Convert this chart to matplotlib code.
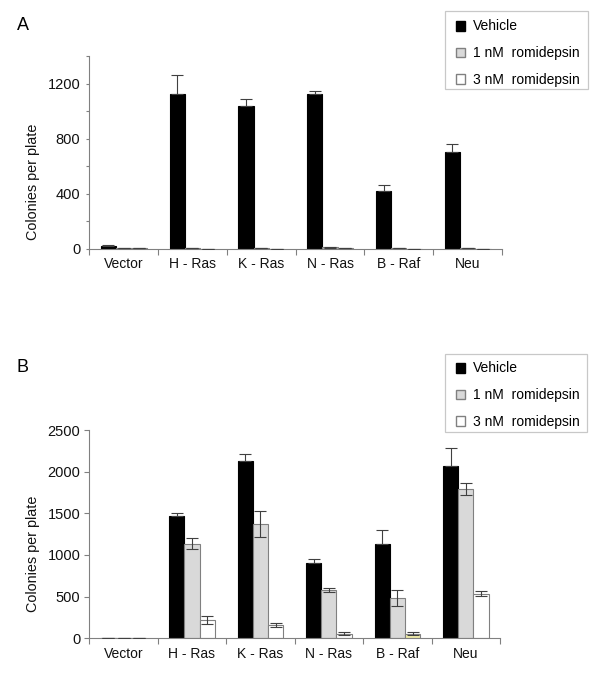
import numpy as np
import matplotlib
matplotlib.use("Agg")
import matplotlib.pyplot as plt
from matplotlib.patches import Patch, Rectangle

plt.rcParams['font.family'] = ['Liberation Sans', 'DejaVu Sans']

# categories and series
groups = ['Vector', 'H - Ras', 'K - Ras', 'N - Ras', 'B - Raf', 'Neu']
series = ['Vehicle', '1 nM  romidepsin', '3 nM  romidepsin']

# panel A
vehicle_a = [22, 1124, 1035, 1122, 419, 706]
vehicle_a_err = [6, 140, 49, 27, 41, 56]
low_a = [4, 2, 2, 10, 5, 2]
low_a_err = [2, 0, 0, 4, 2, 0]
high_a = [4, 1, 1, 2, 1, 1]
high_a_err = [2, 0, 0, 0, 0, 0]

# panel B
vehicle_b = [0, 1468, 2124, 904, 1134, 2068]
vehicle_b_err = [0, 40, 84, 44, 160, 216]
low_b = [0, 1136, 1368, 580, 482, 1788]
low_b_err = [0, 68, 156, 20, 98, 72]
high_b = [0, 220, 160, 56, 54, 534]
high_b_err = [0, 48, 20, 18, 20, 30]

edge = '#808080'
errc = '#404040'
w = 0.222
W, H = 600, 683

fig = plt.figure(figsize=(6.0, 6.83), dpi=100)


def draw(ax, data, errs, low_faces, high_faces, ymax, major, minor, ticklen):
    x = np.arange(len(groups)) + 0.5
    faces = ['black', low_faces, high_faces]
    edges = ['black', edge, edge]
    for i in range(3):
        ax.bar(x + (i - 1) * w, data[i], w, color=faces[i], edgecolor=edges[i],
               linewidth=0.8, zorder=2)
        e = np.array(errs[i])
        # vehicle bars: only the upper half shows over the black bar
        yerr = [np.zeros_like(e), e] if i == 0 else e
        ax.errorbar(x + (i - 1) * w, data[i], yerr=yerr, fmt='none',
                    ecolor=errc, elinewidth=0.8, capsize=4.5, capthick=0.8, zorder=3)
    ax.set_xlim(0, len(groups))
    ax.set_ylim(0, ymax)
    ax.set_yticks(major)
    if minor is not None:
        ax.set_yticks(minor, minor=True)
    ax.set_xticks(np.arange(len(groups) + 1))
    ax.set_xticklabels([])
    ax.set_xticks(x, minor=True)
    ax.set_xticklabels(groups, minor=True, fontsize=10, color='#111111')
    ax.tick_params(axis='x', which='major', direction='out', length=4, color=edge, width=0.8)
    ax.tick_params(axis='x', which='minor', length=0, pad=6)
    ax.tick_params(axis='y', which='both', direction='out', length=ticklen, color=edge,
                   width=0.8, labelsize=10.5, pad=6.5 - ticklen, labelcolor='#111111')
    for s in ['top', 'right']:
        ax.spines[s].set_visible(False)
    for s in ['left', 'bottom']:
        ax.spines[s].set_color(edge)
        ax.spines[s].set_linewidth(0.8)


def legend(box, row1_top):
    x0, y0, x1, y1 = box
    fig.add_artist(Rectangle((x0 / W, 1 - y1 / H), (x1 - x0) / W, (y1 - y0) / H,
                             transform=fig.transFigure, facecolor='white',
                             edgecolor='#c8c8c8', linewidth=0.9))
    handles = [Patch(facecolor='black', edgecolor='black'),
               Patch(facecolor='#d9d9d9', edgecolor=edge),
               Patch(facecolor='white', edgecolor=edge)]
    fig.legend(handles, series, loc='upper left',
               bbox_to_anchor=(456 / W, 1 - row1_top / H), borderaxespad=0,
               fontsize=10, frameon=False, handlelength=0.65, handleheight=0.7,
               handletextpad=0.55, labelspacing=0.92, borderpad=0)


ax_a = fig.add_axes([89.3 / W, 1 - 248.7 / H, (502 - 89.3) / W, (248.7 - 56) / H])
draw(ax_a, [vehicle_a, low_a, high_a], [vehicle_a_err, low_a_err, high_a_err],
     ['#d9d9d9', '#d9d9d9', '#d9d9d9', '#b0b0b0', '#800000', '#d9d9d9'], 'white',
     1400, [0, 400, 800, 1200], [200, 600, 1000, 1400], 2.2)

ax_b = fig.add_axes([89.3 / W, 1 - 638.3 / H, (500 - 89.3) / W, (638.3 - 430) / H])
draw(ax_b, [vehicle_b, low_b, high_b], [vehicle_b_err, low_b_err, high_b_err],
     '#d9d9d9', ['white', 'white', 'white', 'white', '#f2eeaa', 'white'],
     2500, [0, 500, 1000, 1500, 2000, 2500], None, 3.5)

legend((445, 11, 588, 89), 19.5)
legend((445, 354, 587, 432), 361.5)

fig.text(33 / W, 1 - 182 / H, 'Colonies per plate', rotation=90, ha='center', va='center',
         fontsize=10.4, color='#111111')
fig.text(33 / W, 1 - 554 / H, 'Colonies per plate', rotation=90, ha='center', va='center',
         fontsize=10.4, color='#111111')
fig.text(23 / W, 1 - 26 / H, 'A', ha='center', va='center', fontsize=13)
fig.text(23 / W, 1 - 368 / H, 'B', ha='center', va='center', fontsize=13)

fig.savefig('out.png', dpi=100)
